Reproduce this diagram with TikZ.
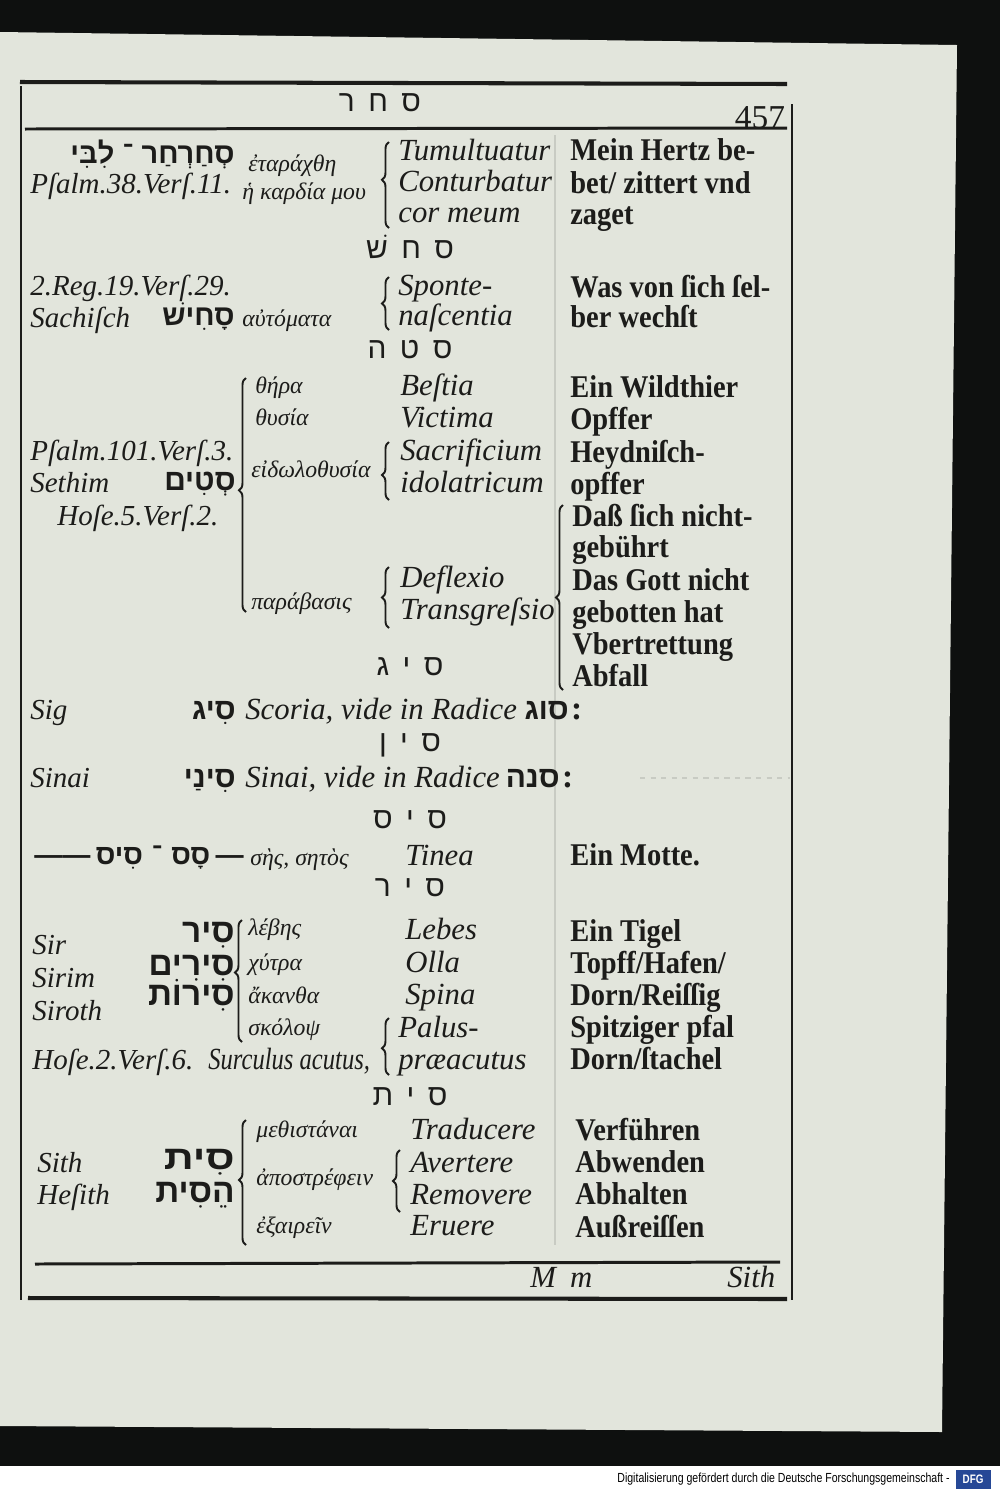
\documentclass[tikz,border=0pt]{standalone}
\usepackage{fontspec}
\setmainfont{Liberation Serif}
\newfontfamily\hebfont[Script=Hebrew]{Liberation Sans}
\newfontfamily\grkfont[Script=Greek]{Liberation Serif}
\newfontfamily\gerfont[FakeStretch=0.9]{Liberation Serif}
\newfontfamily\dfgfont[FakeStretch=0.8]{Liberation Sans}
\usetikzlibrary{positioning,decorations.pathreplacing}
\TeXXeTstate=1
\definecolor{paper}{RGB}{226,229,220}
\definecolor{ink}{RGB}{28,28,26}
\definecolor{scanbg}{RGB}{14,16,15}
\definecolor{ghostgray}{RGB}{200,203,195}
\definecolor{dfgblue}{RGB}{38,72,150}
\newcommand{\gap}{\hspace{0.45em}}

\begin{document}
\begin{tikzpicture}[x=0.02cm,y=-0.02cm,
  lat/.style={font=\fontsize{17.5}{20}\selectfont\itshape, text=ink, anchor=west, inner sep=0pt, text height=12pt, text depth=4pt},
  ref/.style={lat, font=\fontsize{16.5}{20}\selectfont\itshape},
  num/.style={font=\fontsize{19}{22}\selectfont, text=ink, inner sep=0pt},
  colon/.style={font=\bfseries\fontsize{19}{20}\selectfont, text=ink, inner sep=0pt, text height=12pt, text depth=4pt},
  grk/.style={font=\grkfont\itshape\fontsize{13.5}{16}\selectfont, text=ink, anchor=west, inner sep=0pt, text height=9pt, text depth=3pt},
  ger/.style={font=\gerfont\bfseries\fontsize{18}{22}\selectfont, text=ink, anchor=west, inner sep=0pt, text height=13pt, text depth=4pt},
  heb/.style={font=\hebfont\bfseries\fontsize{19}{22}\selectfont, text=ink, anchor=east, inner sep=0pt, text height=12pt, text depth=4pt},
  root/.style={font=\hebfont\fontsize{17}{20}\selectfont, text=ink, inner sep=0pt},
  brc/.style={draw=ink, line width=1.1pt, decorate, decoration={brace, amplitude=4pt}},
  rule/.style={draw=ink, line width=2pt},
  side/.style={draw=ink, line width=1.4pt},
  ghost/.style={draw=ghostgray, line width=0.8pt}]
\useasboundingbox (0,0) rectangle (1000,1492);

% scan and paper
\fill[scanbg] (0,0) rectangle (1000,1466);
\fill[white] (0,1466) rectangle (1000,1492);
\fill[paper] (0,32) -- (957,45) -- (942,1432) -- (0,1426) -- cycle;

% frame
\coordinate (topL) at (20,82);
\coordinate (topR) at (787,84);
\coordinate (hdL) at (25,129);
\coordinate (hdR) at (787,128);
\coordinate (ftL) at (35,1264);
\coordinate (ftR) at (780,1262);
\coordinate (botL) at (28,1298);
\coordinate (botR) at (787,1299);
\draw[rule, line width=2.3pt] (topL) -- (topR);
\draw[rule, line width=1.7pt] (hdL) -- (hdR);
\draw[rule, line width=1.7pt] (ftL) -- (ftR);
\draw[rule, line width=2.3pt] (botL) -- (botR);
\draw[side] (21,86) -- (21,1300);
\draw[side] (792,104) -- (792,1300);
\draw[ghost] (555,135) -- (555,1245);

\node[root] (hdA) at (380,103) {\beginR ס\gap ח\gap ר\endR};
\node[num] (pgno) at (760,118) {457};

% sachar
\node[heb, font=\hebfont\bfseries\fontsize{16.5}{20}\selectfont] (sachar) at (235,156) {\beginR סְחַרְחַר ־ לִבִּי\endR};
\node[ref] (psA) at (30,186) {Pſalm.38.Verſ.11.};
\node[grk] (etar) at (248,166) {ἐταράχθη};
\node[grk] (kard) at (242,194) {ἡ καρδία μου};
\node[lat] (tumult) at (398,153) {Tumultuatur};
\node[lat] (contur) at (398,184) {Conturbatur};
\node[lat] (cormeum) at (398,215) {cor meum};
\node[ger] (herz) at (570,153) {Mein Hertz be-};
\node[ger] (zittert) at (570,186) {bet/ zittert vnd};
\node[ger] (zaget) at (570,217) {zaget};
\draw[brc, decoration={aspect=0.56}] (389,228) -- (389,142);

% sachisch
\node[root] (hdB) at (410,247) {\beginR ס\gap ח\gap שׁ\endR};
\node[ref] (reg) at (30,288) {2.Reg.19.Verſ.29.};
\node[ref] (sachisch) at (30,320) {Sachiſch};
\node[heb, font=\hebfont\bfseries\fontsize{16.5}{20}\selectfont] (sachis) at (235,318) {\beginR סָחִישׁ\endR};
\node[grk] (autom) at (242,321) {αὐτόματα};
\node[lat] (sponte) at (398,288) {Sponte-};
\node[lat] (nasc) at (398,318) {naſcentia};
\node[ger] (wasvon) at (570,290) {Was von ſich ſel-};
\node[ger] (wechst) at (570,320) {ber wechſt};
\draw[brc] (389,330) -- (389,277);

% setim
\node[root] (hdC) at (410,350) {\beginR ס\gap ט\gap ה\endR};
\node[grk] (thera) at (255,388) {θήρα};
\node[grk] (thysia) at (255,420) {θυσία};
\node[ref] (psC) at (30,453) {Pſalm.101.Verſ.3.};
\node[ref] (sethim) at (30,485) {Sethim};
\node[heb, font=\hebfont\bfseries\fontsize{17}{20}\selectfont] (setim) at (236,483) {\beginR סְטִים\endR};
\node[grk] (eidol) at (251,472) {εἰδωλοθυσία};
\node[ref] (hoseA) at (57,518) {Hoſe.5.Verſ.2.};
\node[grk] (parab) at (251,604) {παράβασις};
\node[lat] (bestia) at (400,388) {Beſtia};
\node[lat] (victima) at (400,420) {Victima};
\node[lat] (sacrif) at (400,453) {Sacrificium};
\node[lat] (idol) at (400,485) {idolatricum};
\node[lat] (deflex) at (400,580) {Deflexio};
\node[lat] (transg) at (400,612) {Transgreſsio};
\node[ger] (wild) at (570,390) {Ein Wildthier};
\node[ger] (opfA) at (570,422) {Opffer};
\node[ger] (heyd) at (570,455) {Heydniſch-};
\node[ger] (opfB) at (570,487) {opffer};
\node[ger] (dasz) at (572,519) {Daß ſich nicht-};
\node[ger] (gebuehrt) at (572,550) {gebührt};
\node[ger] (gott) at (572,583) {Das Gott nicht};
\node[ger] (gebotten) at (572,615) {gebotten hat};
\node[ger] (vbertr) at (572,647) {Vbertrettung};
\node[ger] (abfall) at (572,679) {Abfall};
\draw[brc, decoration={aspect=0.52}] (246,612) -- (246,378);
\draw[brc, decoration={aspect=0.43}] (389,500) -- (389,442);
\draw[brc] (389,628) -- (389,567);
\draw[brc] (563,690) -- (563,505);

% sig, sinai
\node[root] (hdD) at (410,667) {\beginR ס\gap י\gap ג\endR};
\node[ref] (sig) at (30,712) {Sig};
\node[heb, font=\hebfont\bfseries\fontsize{17}{20}\selectfont] (sigheb) at (236,712) {\beginR סִיג\endR};
\node[lat] (scoria) at (245,712) {Scoria, vide in Radice};
\node[heb, font=\hebfont\bfseries\fontsize{17}{20}\selectfont, right=4pt of scoria] (sug) {\beginR סוג\endR};
\node[colon, right=1pt of sug] (sugend) {:};
\node[root] (hdE) at (410,745) {\beginR ס\gap י\gap ן\endR};
\node[ref] (sinai) at (30,780) {Sinai};
\node[heb, font=\hebfont\bfseries\fontsize{17}{20}\selectfont] (sinaiheb) at (236,780) {\beginR סִינַי\endR};
\node[lat] (sinlat) at (245,780) {Sinai, vide in Radice};
\node[heb, font=\hebfont\bfseries\fontsize{17}{20}\selectfont, right=3pt of sinlat] (sene) {\beginR סנה\endR};
\node[colon, right=1pt of sene] (seneend) {:};
\draw[ghost, dashed] (640,778) -- (790,778);

% sas
\node[root] (hdF) at (410,820) {\beginR ס\gap י\gap ס\endR};
\node[heb, font=\hebfont\bfseries\fontsize{16}{20}\selectfont] (sas) at (244,857) {\beginR —\hspace{3pt}סָס\hspace{5pt}־\hspace{5pt}סִיס\hspace{3pt}——\endR};
\node[grk] (ses) at (250,860) {σὴς, σητὸς};
\node[lat] (tinea) at (405,858) {Tinea};
\node[ger] (motte) at (570,858) {Ein Motte.};

% sir
\node[root] (hdG) at (410,888) {\beginR ס\gap י\gap ר\endR};
\node[ref] (sir) at (32,947) {Sir};
\node[ref] (sirim) at (32,980) {Sirim};
\node[ref] (siroth) at (32,1013) {Siroth};
\node[heb] (sirheb) at (235,935) {\beginR סִיר\endR};
\node[heb] (sirimheb) at (235,968) {\beginR סִירִים\endR};
\node[heb] (sirothheb) at (235,998) {\beginR סִירוֹת\endR};
\node[grk] (lebes) at (248,930) {λέβης};
\node[grk] (chytra) at (248,965) {χύτρα};
\node[grk] (akantha) at (248,998) {ἄκανθα};
\node[grk] (skolops) at (248,1030) {σκόλοψ};
\node[lat] (lebeslat) at (405,932) {Lebes};
\node[lat] (olla) at (405,965) {Olla};
\node[lat] (spina) at (405,997) {Spina};
\node[lat] (palus) at (398,1030) {Palus-};
\node[ref] (hoseB) at (32,1062) {Hoſe.2.Verſ.6.};
\node[lat] (surc) at (208,1062) {\scalebox{0.8}[1]{Surculus acutus,}};
\node[lat] (praeac) at (398,1062) {præacutus};
\node[ger] (tigel) at (570,934) {Ein Tigel};
\node[ger] (topff) at (570,966) {Topff/Hafen/};
\node[ger] (reissig) at (570,998) {Dorn/Reiſſig};
\node[ger] (pfal) at (570,1030) {Spitziger pfal};
\node[ger] (stachel) at (570,1062) {Dorn/ſtachel};
\draw[brc, decoration={aspect=0.57}] (242,1042) -- (242,920);
\draw[brc, decoration={aspect=0.47}] (389,1075) -- (389,1018);

% sith
\node[root] (hdH) at (410,1097) {\beginR ס\gap י\gap ת\endR};
\node[ref] (sith) at (37,1165) {Sith};
\node[ref] (hesith) at (37,1197) {Heſith};
\node[heb] (sitheb) at (235,1162) {\scalebox{1.25}[1]{\beginR סִית\endR}};
\node[heb] (hesitheb) at (235,1195) {\beginR הֵסִית\endR};
\node[grk] (methist) at (256,1132) {μεθιστάναι};
\node[grk] (apostr) at (256,1180) {ἀποστρέφειν};
\node[grk] (exair) at (256,1228) {ἐξαιρεῖν};
\node[lat] (traduc) at (410,1132) {Traducere};
\node[lat] (avert) at (410,1165) {Avertere};
\node[lat] (remou) at (410,1197) {Removere};
\node[lat] (eruere) at (410,1228) {Eruere};
\node[ger] (verf) at (575,1133) {Verführen};
\node[ger] (abw) at (575,1165) {Abwenden};
\node[ger] (abh) at (575,1197) {Abhalten};
\node[ger] (ausz) at (575,1230) {Außreiſſen};
\draw[brc, decoration={aspect=0.52}] (246,1245) -- (246,1120);
\draw[brc] (400,1212) -- (400,1150);

% footer
\node[lat] (sigMm) at (530,1280) {M\hspace{8pt}m};
\node[lat] (custos) at (727,1280) {Sith};

% scanner strip
\node[font=\dfgfont\fontsize{7.5}{9}\selectfont, anchor=east, inner sep=0pt, text=black] (dfgtext) at (950,1479) {Digitalisierung gefördert durch die Deutsche Forschungsgemeinschaft -};
\node[fill=dfgblue, text=white, font=\dfgfont\bfseries\fontsize{7}{8}\selectfont, inner sep=1.5pt, minimum width=0.7cm, minimum height=0.38cm, anchor=west, right=3pt of dfgtext] (dfglogo) {DFG};
\end{tikzpicture}
\end{document}
